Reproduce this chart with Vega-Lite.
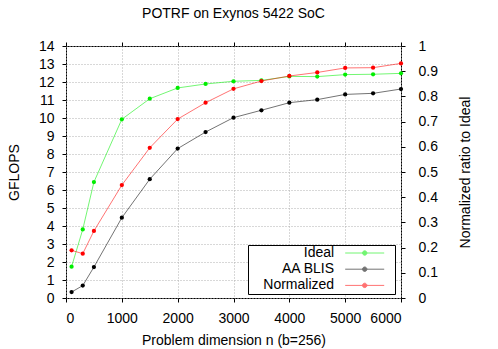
{
  "$schema": "https://vega.github.io/schema/vega-lite/v6.json",
  "width": 335,
  "height": 252,
  "autosize": {"type": "none"},
  "padding": {"left": 66, "top": 46, "right": 97, "bottom": 51},
  "title": {"text": "POTRF on Exynos 5422 SoC", "fontSize": 14, "font": "Liberation Sans", "fontWeight": "normal", "anchor": "middle", "offset": 18, "color": "black"},
  "data": {"values": [
    {"n": 100, "series": "Ideal", "value": 1.74},
    {"n": 300, "series": "Ideal", "value": 3.81},
    {"n": 500, "series": "Ideal", "value": 6.44},
    {"n": 1000, "series": "Ideal", "value": 9.93},
    {"n": 1500, "series": "Ideal", "value": 11.07},
    {"n": 2000, "series": "Ideal", "value": 11.67},
    {"n": 2500, "series": "Ideal", "value": 11.89},
    {"n": 3000, "series": "Ideal", "value": 12.04},
    {"n": 3500, "series": "Ideal", "value": 12.09},
    {"n": 4000, "series": "Ideal", "value": 12.31},
    {"n": 4500, "series": "Ideal", "value": 12.3},
    {"n": 5000, "series": "Ideal", "value": 12.41},
    {"n": 5500, "series": "Ideal", "value": 12.43},
    {"n": 6000, "series": "Ideal", "value": 12.48},
    {"n": 100, "series": "AA BLIS", "value": 0.33},
    {"n": 300, "series": "AA BLIS", "value": 0.69},
    {"n": 500, "series": "AA BLIS", "value": 1.72},
    {"n": 1000, "series": "AA BLIS", "value": 4.46},
    {"n": 1500, "series": "AA BLIS", "value": 6.6},
    {"n": 2000, "series": "AA BLIS", "value": 8.3},
    {"n": 2500, "series": "AA BLIS", "value": 9.22},
    {"n": 3000, "series": "AA BLIS", "value": 10.02},
    {"n": 3500, "series": "AA BLIS", "value": 10.43},
    {"n": 4000, "series": "AA BLIS", "value": 10.85},
    {"n": 4500, "series": "AA BLIS", "value": 11.02},
    {"n": 5000, "series": "AA BLIS", "value": 11.31},
    {"n": 5500, "series": "AA BLIS", "value": 11.37},
    {"n": 6000, "series": "AA BLIS", "value": 11.61},
    {"n": 100, "series": "Normalized", "value": 0.189},
    {"n": 300, "series": "Normalized", "value": 0.176},
    {"n": 500, "series": "Normalized", "value": 0.266},
    {"n": 1000, "series": "Normalized", "value": 0.448},
    {"n": 1500, "series": "Normalized", "value": 0.596},
    {"n": 2000, "series": "Normalized", "value": 0.71},
    {"n": 2500, "series": "Normalized", "value": 0.775},
    {"n": 3000, "series": "Normalized", "value": 0.83},
    {"n": 3500, "series": "Normalized", "value": 0.861},
    {"n": 4000, "series": "Normalized", "value": 0.881},
    {"n": 4500, "series": "Normalized", "value": 0.895},
    {"n": 5000, "series": "Normalized", "value": 0.913},
    {"n": 5500, "series": "Normalized", "value": 0.914},
    {"n": 6000, "series": "Normalized", "value": 0.931}
  ]},
  "layer": [
    {
      "transform": [{"filter": "datum.series !== 'Normalized'"}],
      "encoding": {
        "x": {"field": "n", "type": "quantitative", "scale": {"domain": [0, 6000], "nice": false},
          "axis": {"orient": "bottom", "title": "Problem dimension n (b=256)", "format": "d", "values": [0, 1000, 2000, 3000, 4000, 5000, 6000], "grid": true, "tickSize": 4, "labelPadding": 9, "titlePadding": 8}},
        "y": {"field": "value", "type": "quantitative", "scale": {"domain": [0, 14], "nice": false},
          "axis": {"orient": "left", "title": "GFLOPS", "format": "d", "values": [0,1,2,3,4,5,6,7,8,9,10,11,12,13,14], "grid": true, "tickSize": 4, "labelPadding": 8, "titlePadding": 17}},
        "color": {"field": "series", "type": "nominal",
          "scale": {"domain": ["Ideal", "AA BLIS", "Normalized"], "range": ["#00ee00", "#000000", "#ff0000"]},
          "legend": {"orient": "none", "legendX": 182, "legendY": 199, "title": null, "strokeColor": "black", "fillColor": "white",
            "symbolType": "M-3.9,0H3.9M0.44,0A0.44,0.44,0,1,1,-0.44,0A0.44,0.44,0,1,1,0.44,0M5.4,0",
            "symbolSize": 100, "symbolStrokeWidth": 1, "symbolOffset": 108.7, "labelAlign": "right", "labelOffset": -37.6, "labelFontSize": 14, "labelColor": "black", "rowPadding": 2.2, "padding": 1,
            "encode": {"symbols": {"update": {"fill": {"scale": "color", "field": "value"}, "stroke": {"scale": "color", "field": "value"}, "strokeOpacity": {"value": 0.6}}}}}}
      },
      "layer": [
        {"mark": {"type": "line", "strokeWidth": 1, "opacity": 0.55}},
        {"mark": {"type": "point", "filled": true, "size": 18, "opacity": 1}}
      ]
    },
    {
      "transform": [{"filter": "datum.series === 'Normalized'"}],
      "encoding": {
        "x": {"field": "n", "type": "quantitative", "scale": {"domain": [0, 6000], "nice": false},
          "axis": {"orient": "top", "title": null, "labels": false, "values": [0, 1000, 2000, 3000, 4000, 5000, 6000], "grid": false, "tickSize": 4}},
        "y": {"field": "value", "type": "quantitative", "scale": {"domain": [0, 1], "nice": false},
          "axis": {"orient": "right", "title": "Normalized ratio to Ideal", "format": "~g", "values": [0,0.1,0.2,0.3,0.4,0.5,0.6,0.7,0.8,0.9,1], "grid": false, "tickSize": 4, "labelPadding": 13, "titlePadding": 21, "titleAngle": -90, "titleBaseline": "top"}},
        "color": {"field": "series", "type": "nominal"}
      },
      "layer": [
        {"mark": {"type": "line", "strokeWidth": 1, "opacity": 0.55}},
        {"mark": {"type": "point", "filled": true, "size": 18, "opacity": 1}}
      ]
    }
  ],
  "resolve": {"scale": {"y": "independent"}, "axis": {"x": "independent"}},
  "config": {
    "font": "Liberation Sans",
    "view": {"stroke": "black", "strokeWidth": 1},
    "axis": {"labelFontSize": 14, "titleFontSize": 14, "titleFontWeight": "normal", "labelColor": "black", "titleColor": "black", "tickColor": "black", "domain": false, "gridColor": "#b0b0b0", "gridDash": [1, 2], "labelFont": "Liberation Sans", "titleFont": "Liberation Sans"},
    "legend": {"labelFont": "Liberation Sans"}
  }
}
